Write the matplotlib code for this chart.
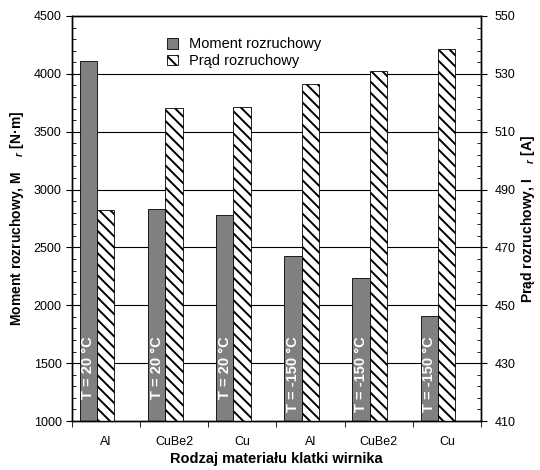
import matplotlib.pyplot as plt
import numpy as np
from matplotlib.ticker import MultipleLocator

plt.rcParams['font.family'] = ['Liberation Sans', 'DejaVu Sans']
plt.rcParams['hatch.linewidth'] = 1.4
plt.rcParams['mathtext.fontset'] = 'custom'
plt.rcParams['mathtext.rm'] = 'Liberation Sans'
plt.rcParams['mathtext.it'] = 'Liberation Sans:italic:bold'
plt.rcParams['mathtext.bf'] = 'Liberation Sans:bold'

# Rotor cage materials, first at 20 C then at -150 C
materials = ['Al', 'CuBe2', 'Cu', 'Al', 'CuBe2', 'Cu']
temps = ['T = 20 °C', 'T = 20 °C', 'T = 20 °C',
         'T = -150 °C', 'T = -150 °C', 'T = -150 °C']
moment = [4110, 2830, 2780, 2425, 2235, 1905]   # N*m
current = [482.8, 518.1, 518.4, 526.5, 530.9, 538.5]  # A

x = np.arange(len(materials))
w = 0.255

fig = plt.figure(figsize=(5.4, 4.7), dpi=100)
ax = fig.add_axes([72/540, 49/470, 409/540, 405/470])
ax2 = ax.twinx()

ax.set_ylim(1000, 4500)
ax.set_xlim(-0.5, len(materials) - 0.5)
ax.yaxis.set_major_locator(MultipleLocator(500))
ax.yaxis.set_minor_locator(MultipleLocator(100))
for v in np.arange(1500, 4500, 500):
    ax.axhline(v, color='black', lw=0.8, zorder=0)

b1 = ax.bar(x - 0.387, moment, w, align='edge', color='#808080',
            edgecolor='black', lw=0.6, zorder=2, label='Moment rozruchowy')
# temperature labels hang from a common top line
for xi, t in zip(x, temps):
    ax.text(xi - 0.387 + w/2, 1735, t, rotation=90, ha='center', va='top',
            color='white', fontsize=10.5, fontweight='bold', zorder=3)

ax2.set_ylim(410, 550)
ax2.set_yticks(np.arange(410, 551, 20))
ax2.set_yticks(np.arange(410, 551, 4), minor=True)
b2 = ax2.bar(x - 0.132, current, w, align='edge', color='white', hatch='\\\\\\',
             edgecolor='black', lw=0.6, zorder=2, label='Prąd rozruchowy')

ax.set_xticks(np.arange(-0.5, len(materials)), minor=True)
ax.set_xticks(x)
ax.set_xticklabels(materials)
ax.tick_params(axis='x', which='major', length=0, labelsize=9, pad=11)
ax.tick_params(axis='x', which='minor', length=4, direction='out')
ax.tick_params(axis='y', which='major', length=4, direction='out', labelsize=9)
ax.tick_params(axis='y', which='minor', length=3, direction='in')
ax2.tick_params(axis='y', which='major', length=4, direction='out', labelsize=9, pad=6)
ax2.tick_params(axis='y', which='minor', length=3, direction='in')

ax.set_xlabel('Rodzaj materiału klatki wirnika', fontsize=10.5, fontweight='bold')
ax.xaxis.set_label_coords(0.5, -(452 - 421) / 405)
ax.set_ylabel(r'Moment rozruchowy, M    $_{r}$ [N·m]', fontsize=10, fontweight='bold',
              va='center')
ax.yaxis.set_label_coords(-(72 - 17) / 409, 0.5)
ax2.set_ylabel(r'Prąd rozruchowy, I    $_{r}$ [A]', fontsize=10, fontweight='bold',
               rotation=90, va='center')
ax2.yaxis.set_label_coords((528 - 72) / 409, 0.5)

for a in (ax, ax2):
    for s in a.spines.values():
        s.set_linewidth(1.0)

fig.legend(handles=[b1, b2], loc='upper left', bbox_to_anchor=(160/540, 1 - 30/470),
           frameon=False, fontsize=10.5, handlelength=0.75, handleheight=0.75,
           handletextpad=0.75, labelspacing=0.2, borderpad=0)

fig.savefig('out.png', dpi=100)
